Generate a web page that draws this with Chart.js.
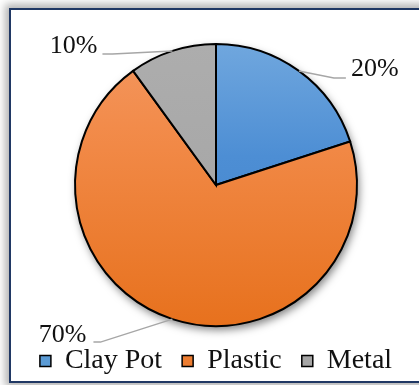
<!DOCTYPE html>
<html>
<head>
<meta charset="utf-8">
<script src="https://cdn.jsdelivr.net/npm/chart.js@4.4.1/dist/chart.umd.min.js"></script>
<style>
  html, body { margin: 0; padding: 0; background: #ffffff; overflow: hidden; }
  body { width: 419px; height: 385px; position: relative; }
  #frame {
    position: absolute; left: 9px; top: 8px; width: 420px; height: 371px;
    border: 2px solid #203864; background: #ffffff;
    box-shadow: 0 0 8px 4px rgba(0,0,0,0.3);
  }
  #wrap { position: absolute; left: 0; top: 0; width: 419px; height: 385px; }
</style>
</head>
<body>
<div id="frame"></div>
<div id="wrap"><canvas id="c" width="419" height="385"></canvas></div>
<script>
const categories = ["Clay Pot", "Plastic", "Metal"];
const shares = [20, 70, 10];
const sliceColors = ["#5b9bd5", "#ed7d31", "#a5a5a5"];

const FONT = "'Liberation Serif', 'Times New Roman', serif";

// gradient stops per slice (light top -> darker bottom)
const gradStops = [
  [[0, "#70a7de"], [0.4, "#4d8ed4"], [1, "#4080c8"]],
  [[0, "#f39760"], [0.3, "#f28b4a"], [1, "#e7711d"]],
  [[0, "#adadad"], [1, "#a2a2a2"]]
];

function sliceFill(ctx) {
  const chart = ctx.chart;
  const area = chart.chartArea;
  if (!area) return sliceColors[ctx.dataIndex];
  const g = chart.ctx.createLinearGradient(0, area.top, 0, area.bottom);
  gradStops[ctx.dataIndex].forEach(s => g.addColorStop(s[0], s[1]));
  return g;
}

// label placement: offsets relative to the slice's outer mid point
const labelCfg = [
  { bend: [35, 7], end: [47, 7], tx: 52, ty: -2, align: "left" },
  { bend: [-72, 23], end: [-79, 23], tx: -86, ty: 16, align: "right" },
  { bend: [-60, 3], end: [-70, 3], tx: -75, ty: -5, align: "right" }
];

const pieShadow = {
  id: "pieShadow",
  beforeDatasetsDraw(chart) {
    const arc = chart.getDatasetMeta(0).data[0];
    if (!arc) return;
    const c = chart.ctx;
    c.save();
    c.shadowColor = "rgba(0,0,0,0.5)";
    c.shadowBlur = 9;
    c.shadowOffsetX = 2;
    c.shadowOffsetY = 4;
    c.fillStyle = "#ffffff";
    c.beginPath();
    c.arc(arc.x, arc.y, arc.outerRadius, 0, Math.PI * 2);
    c.fill();
    c.restore();
  }
};

const outLabels = {
  id: "outLabels",
  afterDatasetsDraw(chart) {
    const meta = chart.getDatasetMeta(0);
    const data = chart.data.datasets[0].data;
    const total = data.reduce((a, b) => a + b, 0);
    const c = chart.ctx;
    c.save();
    meta.data.forEach((arc, i) => {
      const mid = (arc.startAngle + arc.endAngle) / 2;
      const px = arc.x + Math.cos(mid) * arc.outerRadius;
      const py = arc.y + Math.sin(mid) * arc.outerRadius;
      const L = labelCfg[i];
      c.strokeStyle = "#a6a6a6";
      c.lineWidth = 1.5;
      c.beginPath();
      c.moveTo(px, py);
      c.lineTo(px + L.bend[0], py + L.bend[1]);
      c.lineTo(px + L.end[0], py + L.end[1]);
      c.stroke();
      c.fillStyle = "#111111";
      c.font = "26px " + FONT;
      c.textAlign = L.align;
      c.textBaseline = "middle";
      c.fillText(Math.round(data[i] / total * 100) + "%", px + L.tx, py + L.ty);
    });
    c.restore();
  }
};

new Chart(document.getElementById("c"), {
  type: "pie",
  data: {
    labels: categories,
    datasets: [{
      data: shares,
      backgroundColor: sliceFill,
      borderColor: "#000000",
      borderWidth: 2,
      borderJoinStyle: "miter"
    }]
  },
  options: {
    responsive: false,
    animation: false,
    layout: { padding: { top: 43, left: 13, right: 0, bottom: 0 } },
    plugins: {
      tooltip: { enabled: false },
      legend: {
        position: "bottom",
        labels: {
          font: { family: FONT, size: 28 },
          color: "#111111",
          boxWidth: 11,
          boxHeight: 11,
          padding: 20,
          generateLabels(chart) {
            return chart.data.labels.map((l, i) => ({
              text: l,
              fillStyle: sliceColors[i],
              strokeStyle: "#000000",
              lineWidth: 1.5,
              fontColor: "#111111",
              index: i
            }));
          }
        }
      }
    }
  },
  plugins: [pieShadow, outLabels]
});
</script>
</body>
</html>
